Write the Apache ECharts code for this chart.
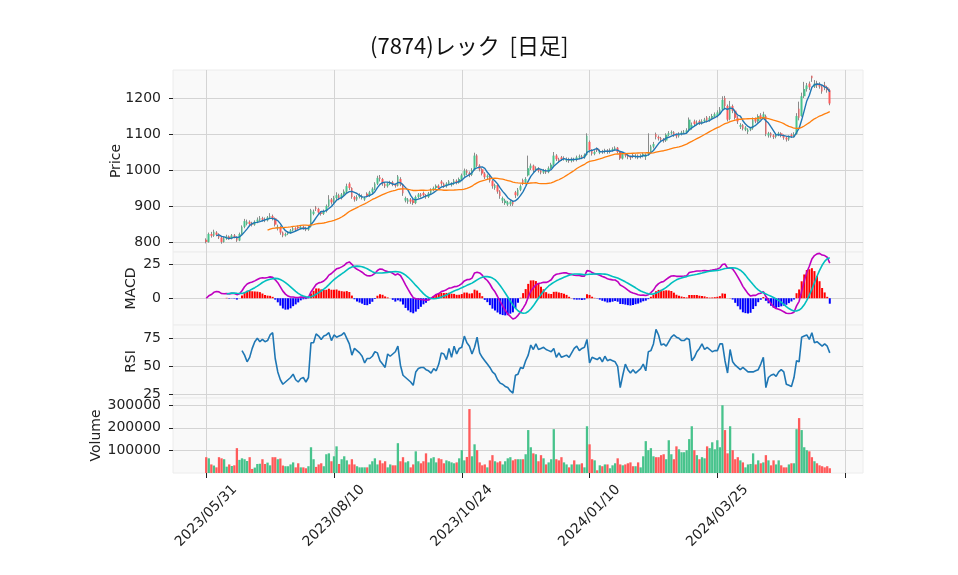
<!DOCTYPE html>
<html>
<head>
<meta charset="utf-8">
<script src="https://cdn.jsdelivr.net/npm/echarts@6/dist/echarts.min.js"></script>
<style>
  html, body { margin: 0; padding: 0; background: #fff; }
  #chart { width: 958px; height: 575px; }
</style>
</head>
<body>
<div id="chart"></div>
<script>
// x axis: ticks every 50 trading days
const tickIndex = [0, 50, 100, 150, 200, 250];
const tickLabels = ["2023/05/31", "2023/08/10", "2023/10/24", "2024/01/10", "2024/03/25", ""];

// daily prices
const opens = [
  806,800,822,817,826,820,812,800,810,815,810,818,814,804,822,842,850,856,852,848,
  856,862,866,864,860,868,872,866,838,842,826,818,822,826,832,838,842,838,842,838,
  834,842,878,896,892,882,878,886,900,918,910,922,930,922,932,940,962,950,925,918,
  925,922,918,934,928,938,948,962,980,975,962,955,962,966,960,956,975,960,915,912,
  918,916,908,925,932,936,930,925,935,945,950,956,968,962,955,962,958,962,970,965,
  975,985,998,992,986,1000,1040,1012,1002,990,980,984,970,950,958,940,915,908,904,905,
  912,938,930,945,972,965,985,1005,1012,1000,1005,998,993,998,994,1005,1015,1040,1030,1035,
  1030,1026,1030,1025,1030,1028,1035,1038,1035,1042,1078,1055,1045,1060,1048,1052,1050,1054,1050,1055,
  1058,1062,1050,1032,1045,1040,1036,1042,1038,1040,1036,1040,1036,1045,1050,1065,1100,1092,1088,1085,
  1082,1098,1102,1105,1098,1094,1100,1104,1106,1110,1118,1135,1128,1136,1130,1136,1146,1138,1145,1150,
  1150,1160,1168,1200,1178,1142,1178,1165,1145,1120,1125,1112,1106,1112,1116,1142,1135,1152,1145,1150,
  1096,1102,1096,1092,1098,1102,1096,1090,1085,1098,1094,1100,1170,1150,1205,1225,1240,1262,1232,1242,
  1238,1232,1236,1230,1222
];
const closes = [
  800,822,817,828,820,812,800,810,815,810,818,814,804,822,842,858,856,850,848,856,
  862,866,862,860,868,872,866,848,842,826,818,822,826,832,838,834,838,842,838,834,
  840,888,884,892,882,878,886,900,918,910,922,930,922,932,940,955,950,925,918,925,
  930,928,922,928,938,948,962,978,975,962,955,962,966,960,956,982,960,935,922,918,
  912,908,925,932,928,930,925,935,945,950,956,950,962,955,962,968,962,970,965,975,
  985,998,992,986,1000,1040,1012,1002,990,980,984,970,955,958,940,928,922,915,910,912,
  905,930,945,955,965,975,1005,1012,1000,1005,998,993,998,994,1005,1015,1040,1030,1025,1030,
  1032,1030,1025,1030,1028,1035,1038,1035,1042,1095,1055,1045,1050,1055,1052,1050,1054,1050,1055,1058,
  1062,1050,1032,1045,1040,1036,1034,1038,1040,1036,1040,1044,1040,1050,1065,1072,1092,1088,1085,1082,
  1098,1102,1105,1098,1094,1100,1104,1106,1110,1140,1125,1128,1132,1130,1136,1140,1138,1145,1150,1155,
  1160,1168,1195,1178,1140,1178,1165,1145,1135,1125,1115,1118,1112,1116,1140,1135,1150,1145,1155,1100,
  1102,1096,1092,1098,1102,1096,1090,1085,1092,1094,1100,1150,1145,1205,1225,1235,1230,1255,1240,1235,
  1232,1218,1230,1222,1185
];
const lows = [
  796,798,812,814,816,808,795,798,806,806,807,810,800,802,820,838,846,845,843,845,
  852,858,857,855,857,864,860,843,832,820,813,815,819,823,829,830,834,835,834,830,
  831,840,874,886,878,873,875,882,896,904,906,918,916,918,928,936,944,920,912,914,
  921,918,914,924,925,934,944,958,968,956,950,951,958,955,951,954,955,928,910,906,
  906,903,905,921,923,926,920,922,931,941,946,945,956,950,951,958,954,958,960,962,
  971,981,986,980,983,998,1008,996,985,975,975,965,948,945,934,920,908,903,900,900,
  900,922,927,941,958,960,982,1000,994,996,993,988,989,989,991,1002,1012,1025,1020,1025,
  1026,1022,1020,1021,1023,1024,1030,1030,1031,1040,1048,1040,1041,1050,1044,1045,1046,1045,1046,1051,
  1054,1046,1028,1029,1035,1030,1028,1033,1032,1030,1032,1035,1028,1040,1046,1060,1085,1082,1080,1076,
  1078,1094,1098,1092,1088,1090,1096,1100,1101,1106,1112,1122,1124,1125,1126,1132,1132,1134,1140,1146,
  1146,1155,1164,1172,1135,1138,1158,1140,1128,1114,1110,1108,1100,1108,1112,1130,1131,1140,1141,1094,
  1090,1090,1086,1088,1094,1091,1084,1079,1081,1089,1090,1098,1138,1148,1200,1218,1222,1245,1228,1228,
  1226,1212,1222,1215,1180
];
const highs = [
  810,826,828,834,830,824,815,814,820,818,822,822,816,826,846,864,862,860,856,860,
  868,872,870,868,872,880,876,868,848,845,829,826,830,836,842,841,846,847,845,842,
  844,892,890,900,895,886,890,904,930,922,928,938,934,936,946,962,966,952,928,930,
  935,932,926,938,942,952,966,984,986,978,966,966,970,970,963,986,980,962,926,922,
  922,920,929,936,936,940,933,939,949,954,960,960,972,965,966,972,966,975,974,979,
  990,1004,1002,996,1005,1048,1044,1016,1005,994,988,988,973,962,960,944,926,920,914,916,
  915,942,950,960,976,980,1040,1018,1015,1010,1008,1001,1003,1002,1010,1020,1050,1044,1034,1039,
  1038,1035,1034,1035,1034,1040,1043,1042,1046,1102,1082,1058,1055,1063,1057,1056,1059,1058,1060,1063,
  1066,1064,1052,1049,1048,1044,1040,1046,1044,1043,1044,1048,1046,1102,1070,1078,1104,1096,1092,1089,
  1102,1108,1110,1108,1101,1105,1109,1111,1116,1146,1132,1140,1138,1140,1141,1145,1150,1150,1156,1160,
  1166,1175,1205,1206,1182,1192,1182,1168,1150,1130,1128,1122,1116,1120,1146,1146,1155,1158,1162,1154,
  1106,1105,1100,1102,1106,1105,1099,1094,1096,1102,1105,1158,1190,1215,1245,1242,1246,1262,1250,1248,
  1244,1236,1245,1234,1226
];
const volumes = [
  70000,65000,38000,33000,25000,70000,65000,61000,28000,38000,31000,34000,110000,58000,65000,61000,53000,70000,18000,24000,
  40000,41000,61000,40000,46000,34000,70000,70000,61000,64000,33000,30000,30000,38000,47000,25000,43000,25000,25000,21000,
  30000,114000,61000,27000,38000,43000,30000,83000,87000,52000,74000,118000,40000,61000,74000,56000,38000,61000,38000,30000,
  25000,25000,25000,25000,38000,52000,65000,38000,56000,43000,52000,25000,38000,34000,34000,132000,52000,70000,47000,52000,
  25000,38000,96000,52000,43000,52000,87000,47000,65000,70000,47000,65000,61000,43000,56000,52000,47000,43000,47000,65000,
  101000,56000,71000,283000,74000,127000,101000,47000,34000,38000,25000,56000,79000,52000,47000,52000,38000,52000,65000,70000,
  56000,61000,61000,61000,61000,83000,190000,114000,87000,83000,52000,79000,65000,38000,47000,61000,194000,61000,56000,70000,
  47000,38000,25000,38000,56000,38000,38000,43000,25000,207000,127000,61000,56000,12000,34000,30000,38000,38000,21000,34000,
  43000,65000,38000,34000,38000,43000,47000,30000,30000,47000,25000,74000,141000,101000,110000,74000,70000,70000,79000,83000,
  61000,145000,83000,61000,118000,105000,92000,92000,101000,150000,207000,101000,79000,61000,70000,65000,118000,110000,136000,105000,
  145000,114000,300000,190000,87000,207000,101000,61000,70000,56000,47000,25000,38000,40000,87000,38000,56000,43000,47000,79000,
  56000,34000,56000,38000,56000,34000,25000,25000,38000,43000,43000,194000,243000,190000,114000,101000,96000,70000,52000,43000,
  34000,30000,25000,30000,21000
];
// RSI(14), first value at day 14
const rsiStart = 14;
const rsiValues = [
  64,60,54,58,66,72,75,72,74,72, 73,78,80,57,45,38,34,36,38,40,
  43,38,36,39,40,36,40,71,71,79, 77,74,77,78,80,73,78,76,77,78,
  80,75,70,60,66,64,62,59,53,57, 57,59,63,62,55,52,49,61,59,61,
  63,68,51,42,40,38,36,33,45,48, 49,49,47,46,44,48,46,52,62,61,
  56,66,58,68,61,66,67,77,71,68, 61,67,76,62,58,55,52,49,45,43,
  38,35,34,32,31,28,26,42,43,49, 48,55,60,69,65,70,65,66,67,65,
  64,63,66,58,62,58,59,60,58,62, 66,68,64,66,67,74,53,58,57,56,
  58,54,59,55,56,55,54,50,31,42, 52,47,44,47,44,46,48,52,46,63,
  64,70,83,78,69,70,68,72,76,78, 76,75,73,73,75,74,55,58,63,66,
  70,65,67,65,63,64,64,70,70,55, 44,65,54,51,49,47,49,47,45,45,
  45,46,47,52,58,31,40,42,43,41, 45,47,45,34,33,32,40,55,54,76,
  77,78,74,80,71,72,70,68,70,68,62
];

const priceTicks = [800, 900, 1000, 1100, 1200];
const macdTicks = [0, 25];
const rsiTicks = [25, 50, 75];
const volumeTicks = [100000, 200000, 300000];

const upColor = "#47c38c";
const downColor = "#ff5a5a";
const PAD = 13;

// ---- indicators ----
const sma = (arr, n) =>
  arr.map((v, i) => {
    if (i < n - 1) return "-";
    let s = 0;
    for (let k = i - n + 1; k <= i; k++) s += arr[k];
    return s / n;
  });
const ema = (arr, span) => {
  const a = 2 / (span + 1);
  const out = [arr[0]];
  for (let i = 1; i < arr.length; i++) out.push(a * arr[i] + (1 - a) * out[i - 1]);
  return out;
};
const ema12 = ema(closes, 12);
const ema26 = ema(closes, 26);
const macd = closes.map((_, i) => ema12[i] - ema26[i]);
const signal = sma(macd, 9);
const hist = macd.map((m, i) => (signal[i] === "-" ? "-" : m - signal[i]));
const sma5 = sma(closes, 5);
const sma25 = sma(closes, 25);

const N = closes.length;
const pad = Array(PAD).fill("-");
const cats = [];
for (let k = 0; k < PAD + N + 13; k++) {
  const t = tickIndex.indexOf(k - PAD);
  cats.push(t >= 0 ? tickLabels[t] : " " + k);
}
const isTick = (idx) => tickIndex.includes(idx - PAD);

const candles = closes.map((c, i) => [opens[i], c, lows[i], highs[i]]);
const bodies = closes.map((c, i) => [opens[i], c, Math.min(opens[i], c), Math.max(opens[i], c)]);
const rsiSeries = closes.map((_, i) => (i < rsiStart ? "-" : rsiValues[i - rsiStart]));

const gridTops = [70, 252, 325, 398];
const gridHeights = [182, 73, 73, 75];

const font = "DejaVu Sans";
const gridLine = { show: true, lineStyle: { color: "#d4d4d4", width: 1 } };

const xAxes = gridTops.map((_, g) => ({
  type: "category",
  gridIndex: g,
  data: cats,
  boundaryGap: false,
  axisLine: { show: false },
  axisTick: {
    show: g === 3,
    interval: (i) => isTick(i),
    length: 5,
    lineStyle: { color: "#222" },
  },
  axisLabel: {
    show: g === 3,
    interval: (i) => isTick(i),
    rotate: 45,
    align: "center",
    verticalAlign: "middle",
    margin: 43,
    fontSize: 14,
    fontFamily: font,
    color: "#222",
  },
  splitLine: { show: true, interval: (i) => isTick(i), lineStyle: { color: "#d4d4d4", width: 1 } },
}));

const yAxis = (g, min, max, ticks, name, nameGap) => ({
  type: "value",
  gridIndex: g,
  min: min,
  max: max,
  name: name,
  nameLocation: "middle",
  nameRotate: 90,
  nameGap: nameGap,
  nameMoveOverlap: false,
  nameTextStyle: { fontSize: 14, fontFamily: font, color: "#222" },
  axisLine: { show: false },
  axisTick: { show: true, customValues: ticks, length: 4, lineStyle: { color: "#222" } },
  axisLabel: {
    customValues: ticks,
    margin: 12,
    fontSize: 14,
    fontFamily: font,
    color: "#222",
    formatter: (v) => String(v),
  },
  splitLine: gridLine,
});

const chart = echarts.init(document.getElementById("chart"));
chart.setOption({
  animation: false,
  backgroundColor: "#fff",
  title: {
    text: "(7874)レック  [日足]",
    left: 365,
    top: 30,
    textStyle: { fontFamily: "Noto Sans CJK JP", fontSize: 22, fontWeight: "normal", color: "#111" },
  },
  grid: gridTops.map((t, g) => ({
    left: 173,
    right: 95,
    top: t,
    height: gridHeights[g],
    show: true,
    backgroundColor: "#f9f9f9",
    borderColor: "#ececec",
    borderWidth: 1,
  })),
  xAxis: xAxes,
  yAxis: [
    yAxis(0, 772, 1278, priceTicks, "Price", 50),
    yAxis(1, -19.5, 33.7, macdTicks, "MACD", 35),
    yAxis(2, 21.7, 86.9, rsiTicks, "RSI", 35),
    yAxis(3, 0, 332000, volumeTicks, "Volume", 70),
  ],
  series: [
    {
      name: "wick",
      type: "candlestick",
      xAxisIndex: 0,
      yAxisIndex: 0,
      barWidth: 1,
      data: pad.map(() => ["-", "-", "-", "-"]).concat(candles),
      itemStyle: { color: "#8a8a8a", color0: "#8a8a8a", borderColor: "#8a8a8a", borderColor0: "#8a8a8a", borderWidth: 1 },
    },
    {
      name: "body",
      type: "candlestick",
      xAxisIndex: 0,
      yAxisIndex: 0,
      barWidth: 2.2,
      data: pad.map(() => ["-", "-", "-", "-"]).concat(bodies),
      itemStyle: { color: upColor, color0: downColor, borderColor: upColor, borderColor0: downColor, borderWidth: 0 },
    },
    {
      name: "SMA5",
      type: "line",
      xAxisIndex: 0,
      yAxisIndex: 0,
      data: pad.concat(sma5),
      symbol: "none",
      lineStyle: { color: "#1f77b4", width: 1.4 },
    },
    {
      name: "SMA25",
      type: "line",
      xAxisIndex: 0,
      yAxisIndex: 0,
      data: pad.concat(sma25),
      symbol: "none",
      lineStyle: { color: "#ff7f0e", width: 1.3 },
    },
    {
      name: "hist",
      type: "bar",
      xAxisIndex: 1,
      yAxisIndex: 1,
      barWidth: 2,
      data: pad.concat(hist),
      itemStyle: { color: (p) => (p.value >= 0 ? "#ff0000" : "#0000ff") },
    },
    {
      name: "MACD",
      type: "line",
      xAxisIndex: 1,
      yAxisIndex: 1,
      data: pad.concat(macd),
      symbol: "none",
      lineStyle: { color: "#bf00bf", width: 1.6 },
    },
    {
      name: "Signal",
      type: "line",
      xAxisIndex: 1,
      yAxisIndex: 1,
      data: pad.concat(signal),
      symbol: "none",
      lineStyle: { color: "#00bfbf", width: 1.6 },
    },
    {
      name: "RSI",
      type: "line",
      xAxisIndex: 2,
      yAxisIndex: 2,
      data: pad.concat(rsiSeries),
      symbol: "none",
      lineStyle: { color: "#1f77b4", width: 1.6 },
    },
    {
      name: "Volume",
      type: "bar",
      xAxisIndex: 3,
      yAxisIndex: 3,
      barWidth: 2.3,
      data: pad.concat(volumes),
      itemStyle: {
        color: (p) => {
          const i = p.dataIndex - PAD;
          return closes[i] >= opens[i] ? upColor : downColor;
        },
      },
    },
  ],
});
</script>
</body>
</html>
